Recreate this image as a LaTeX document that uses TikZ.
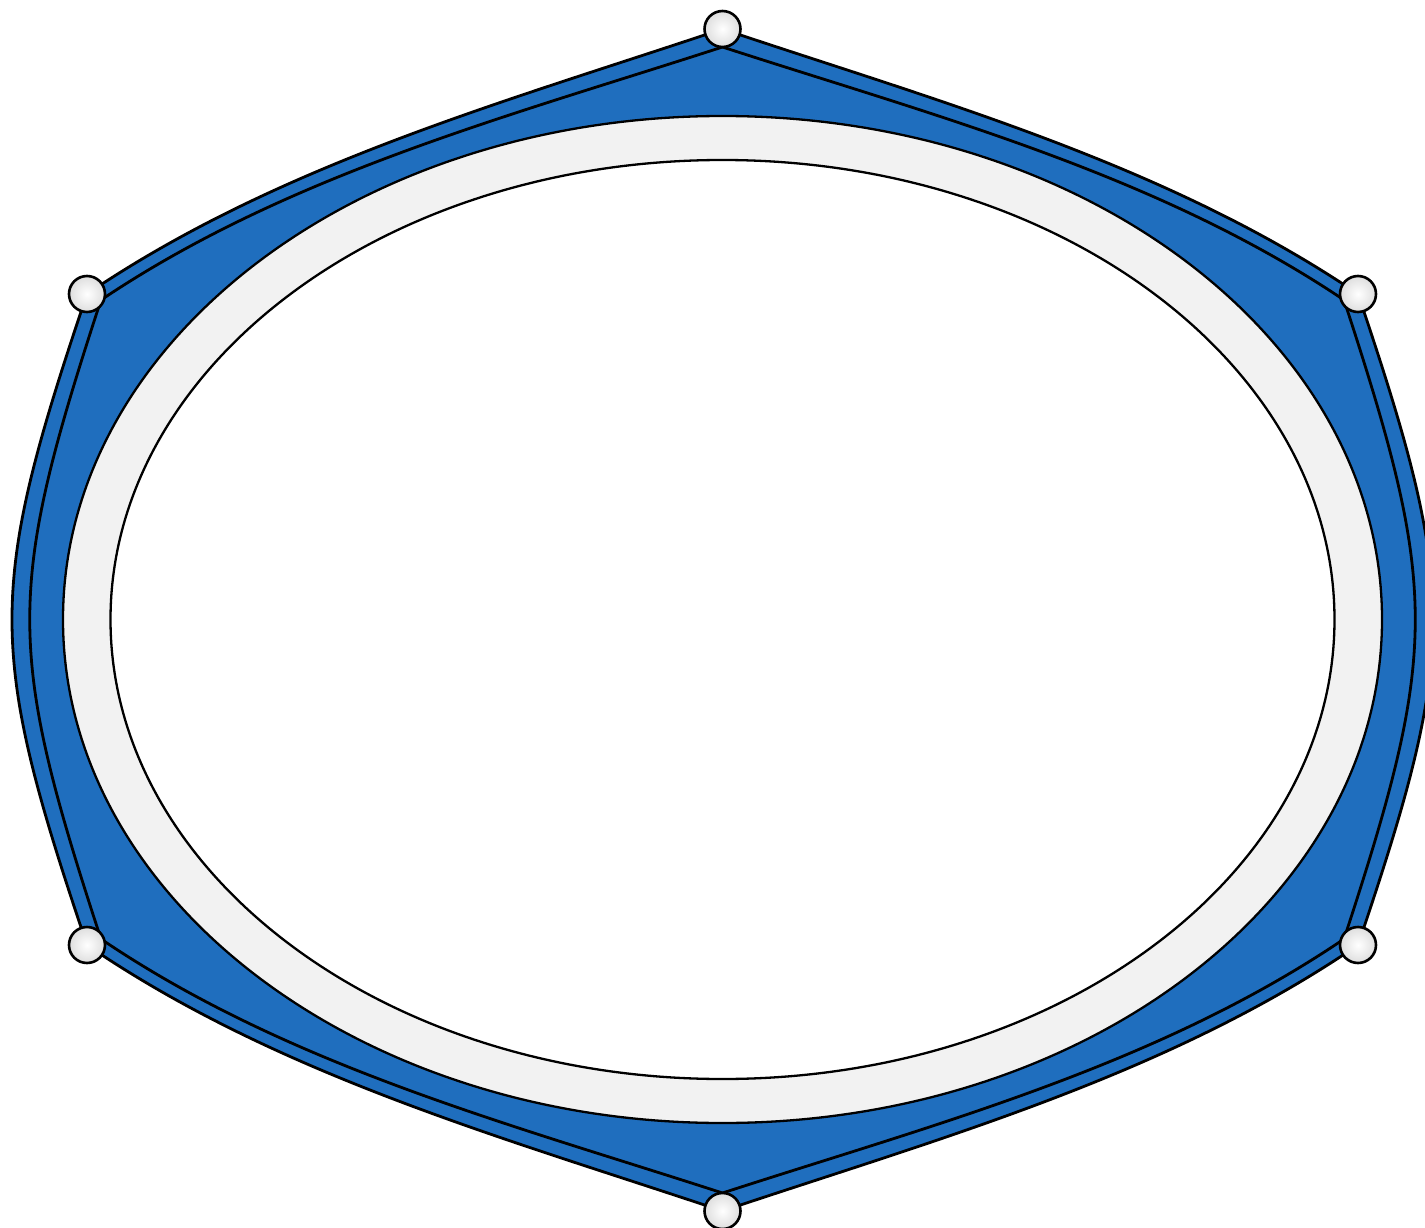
\documentclass[tikz,border=0pt]{standalone}
\definecolor{bandblue}{HTML}{1F6EBE}
\definecolor{ringgray}{HTML}{F2F2F2}
\begin{document}
\begin{tikzpicture}[x=1pt,y=-1pt,
  edge/.style={draw=black,line width=2.8pt,line join=round},
  ring/.style={draw=black,line width=2.3pt},
  knob/.style={circle,draw=black,line width=2.6pt,minimum size=36pt,inner sep=0pt,
    shading=radial,inner color=white,outer color=black!13}]
\useasboundingbox (0,0) rectangle (1425,1228);
\clip (0,0) rectangle (1425,1228);
% outer vertices
\coordinate (T) at (722.5,29);
\coordinate (UL) at (87,294);
\coordinate (LL) at (87,945);
\coordinate (B) at (722.5,1211);
\coordinate (LR) at (1358,945);
\coordinate (UR) at (1358,294);
% inner vertices
\coordinate (iT) at (722.5,47);
\coordinate (iUL) at (101,300);
\coordinate (iLL) at (101,939);
\coordinate (iB) at (722.5,1193);
\coordinate (iLR) at (1344,939);
\coordinate (iUR) at (1344,300);
% outer band
\path[edge,fill=bandblue]
  (T) .. controls (506.3,101.6) and (278.9,164.0) .. (UL)
  .. controls (-13,590) and (-13,649) .. (LL)
  .. controls (278.9,1076) and (506.3,1138.4) .. (B)
  .. controls (938.7,1138.4) and (1166.1,1076) .. (LR)
  .. controls (1458,649) and (1458,590) .. (UR)
  .. controls (1166.1,164) and (938.7,101.6) .. (T) -- cycle;
% inner band
\path[edge,fill=bandblue]
  (iT) .. controls (511,115.7) and (288.6,173.9) .. (iUL)
  .. controls (6,590) and (6,649) .. (iLL)
  .. controls (288.6,1066.1) and (511,1124.3) .. (iB)
  .. controls (934,1124.3) and (1156.4,1066.1) .. (iLR)
  .. controls (1439,649) and (1439,590) .. (iUR)
  .. controls (1156.4,173.9) and (934,115.7) .. (iT) -- cycle;
% rings
\path[ring,fill=ringgray] (722.5,619.5) ellipse [x radius=659.5,y radius=503.5];
\path[ring,fill=white] (722.5,619.5) ellipse [x radius=612,y radius=459.5];
% knobs
\node[knob] (kT) at (T) {};
\node[knob] (kUL) at (UL) {};
\node[knob] (kLL) at (LL) {};
\node[knob] (kB) at (B) {};
\node[knob] (kLR) at (LR) {};
\node[knob] (kUR) at (UR) {};
\end{tikzpicture}
\end{document}
